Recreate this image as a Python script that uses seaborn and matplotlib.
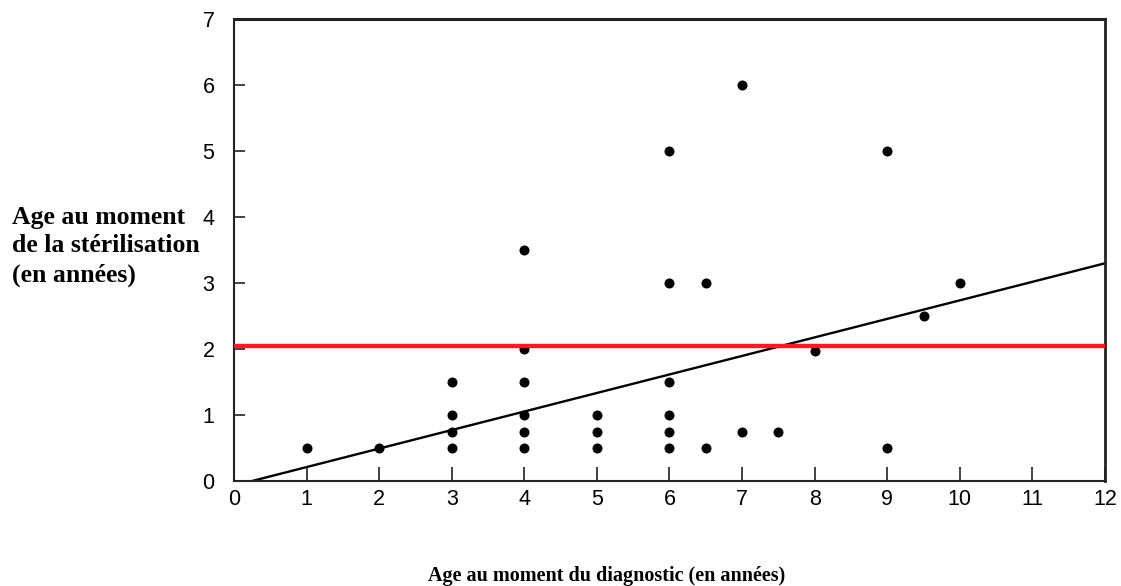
import matplotlib
matplotlib.use("Agg")
import matplotlib.pyplot as plt
import seaborn as sns
import pandas as pd

# Data
diag_age = [1, 2, 3, 3, 3, 3, 4, 4, 4, 4, 4, 4, 5, 5, 5,
            6, 6, 6, 6, 6, 6, 6.5, 6.5, 7, 7, 7.5, 8, 9, 9, 9.5, 10]
steril_age = [0.5, 0.5, 0.5, 0.75, 1, 1.5, 0.5, 0.75, 1, 1.5, 2, 3.5, 0.5, 0.75, 1,
              0.5, 0.75, 1, 1.5, 3, 5, 0.5, 3, 0.75, 6, 0.75, 1.97, 0.5, 5, 2.5, 3]
trend_x = [0.25, 12]
trend_y = [0.0, 3.3]
threshold = 2.05
x_ticks = list(range(0, 13))
y_ticks = list(range(0, 8))

sns.set_theme(style="white")
plt.rcParams['font.family'] = ['Liberation Sans', 'DejaVu Sans']

fig = plt.figure(figsize=(11.21, 5.86), dpi=100)
ax = fig.add_axes([0.2087, 0.1792, 0.777, 0.788])

df = pd.DataFrame({"x": diag_age, "y": steril_age})
sns.scatterplot(data=df, x="x", y="y", ax=ax, color="black", s=52,
                edgecolor="black", linewidth=0, zorder=3)
sns.lineplot(x=trend_x, y=trend_y, ax=ax, color="black", linewidth=1.7, zorder=2)
ax.axhline(threshold, color="#e8202a", linewidth=3.2, zorder=4)

ax.set_xlim(0, 12)
ax.set_ylim(0, 7)
ax.set_xticks(x_ticks)
ax.set_yticks(y_ticks)
ax.tick_params(axis="both", which="major", direction="in", bottom=True, left=True,
               top=False, right=False, width=1.2, color="#222222",
               labelsize=15.5, labelcolor="black")
ax.tick_params(axis="x", length=10, pad=6)
ax.tick_params(axis="y", length=8, pad=14)
for side, sp in ax.spines.items():
    sp.set_color("#222222")
    sp.set_linewidth(1.5)
ax.spines["top"].set_linewidth(2.2)
ax.spines["right"].set_linewidth(2.0)

ax.set_xlabel("")
ax.set_ylabel("")
fig.text(0.541, 0.017, "Age au moment du diagnostic (en années)", ha="center", va="center",
         family=["Liberation Serif", "DejaVu Serif"], fontweight="bold", fontsize=14.5,
         color="black")
fig.text(0.011, 0.58, "Age au moment\nde la stérilisation\n(en années)", ha="left", va="center",
         family=["Liberation Serif", "DejaVu Serif"], fontweight="bold", fontsize=18.5,
         linespacing=1.32, color="black")

fig.savefig("out.png", dpi=100)
